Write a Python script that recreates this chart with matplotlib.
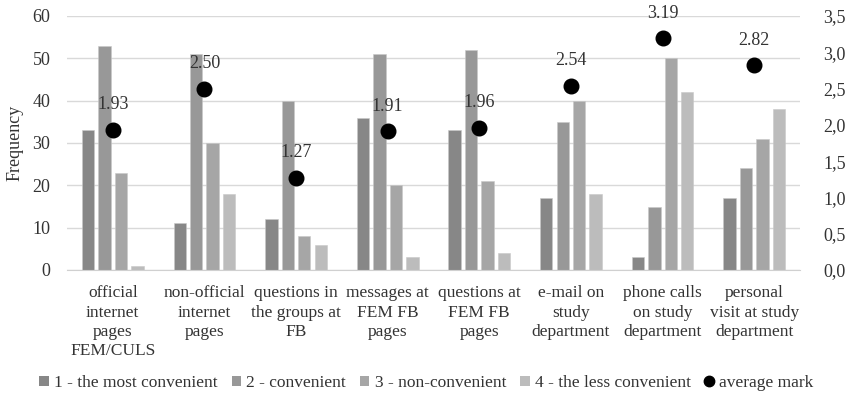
import matplotlib
matplotlib.use("Agg")
import matplotlib.pyplot as plt
from matplotlib.lines import Line2D
from matplotlib.patches import Patch
import numpy as np

plt.rcParams['font.family'] = ['Liberation Serif', 'DejaVu Serif']

categories = [
    "official\ninternet\npages\nFEM/CULS",
    "non-official\ninternet\npages",
    "questions in\nthe groups at\nFB",
    "messages at\nFEM FB\npages",
    "questions at\nFEM FB\npages",
    "e-mail on\nstudy\ndepartment",
    "phone calls\non study\ndepartment",
    "personal\nvisit at study\ndepartment",
]
series_names = ["1 - the most convenient", "2 - convenient",
                "3 - non-convenient", "4 - the less convenient"]
most_convenient = [33, 11, 12, 36, 33, 17, 3, 17]
convenient = [53, 51, 40, 51, 52, 35, 15, 24]
non_convenient = [23, 30, 8, 20, 21, 40, 50, 31]
less_convenient = [1, 18, 6, 3, 4, 18, 42, 38]
average_mark = [1.93, 2.50, 1.27, 1.91, 1.96, 2.54, 3.19, 2.82]
left_ticks = [0, 10, 20, 30, 40, 50, 60]
right_ticks = [0.0, 0.5, 1.0, 1.5, 2.0, 2.5, 3.0, 3.5]

colors = ["#878787", "#989898", "#a6a6a6", "#bcbcbc"]
series = [most_convenient, convenient, non_convenient, less_convenient]
text_color = "#333333"

fig = plt.figure(figsize=(8.53, 3.96), dpi=100)
ax = fig.add_axes([67 / 853, 1 - 270 / 396, (800 - 67) / 853, (270 - 16) / 396])

x = np.arange(len(categories))
bw = 0.135
step = 0.18
for i, (vals, c) in enumerate(zip(series, colors)):
    offs = (i - 1.5) * step
    ax.bar(x + offs, vals, width=bw, color=c, edgecolor="#c8c8c8",
           linewidth=0.4, zorder=2, label=series_names[i])

ax.set_xlim(-0.5, len(categories) - 0.5)
ax.set_ylim(0, 60)
ax.set_yticks(left_ticks)
ax.set_yticklabels([str(t) for t in left_ticks], fontsize=13, color=text_color)
ax.yaxis.grid(True, color="#d9d9d9", linewidth=1.0, zorder=0)
ax.set_axisbelow(True)
for s in ["top", "right", "left"]:
    ax.spines[s].set_visible(False)
ax.spines["bottom"].set_color("#d0d0d0")
ax.tick_params(axis="both", length=0)
ax.tick_params(axis="y", pad=12)
ax.set_xticks(x)
ax.set_xticklabels(categories, fontsize=12.5, color=text_color, linespacing=1.28)
ax.tick_params(axis="x", pad=11)
ax.set_ylabel("Frequency", fontsize=13, color=text_color, labelpad=6)

ax2 = ax.twinx()
ax2.set_ylim(0, 3.5)
ax2.set_yticks(right_ticks)
ax2.set_yticklabels([f"{t:.1f}".replace(".", ",") for t in right_ticks],
                    fontsize=13, color=text_color)
for s in ["top", "right", "left", "bottom"]:
    ax2.spines[s].set_visible(False)
ax2.tick_params(axis="y", length=0, pad=17)
ax2.plot(x, average_mark, linestyle="none", marker="o", markersize=10.5,
         color="black", zorder=5)
for xi, v in zip(x, average_mark):
    ax2.annotate(f"{v:.2f}", (xi, v), xytext=(0, 12), textcoords="offset points",
                 ha="center", va="bottom", fontsize=13, color=text_color)

handles = [Patch(facecolor=c, edgecolor="none") for c in colors]
handles.append(Line2D([], [], linestyle="none", marker="o", color="black",
                      markersize=7.5))
labels = series_names + ["average mark"]
fig.legend(handles, labels, loc="center", bbox_to_anchor=(0.5, 1 - 383 / 396),
           ncol=5, frameon=False, fontsize=12.5, handlelength=0.55,
           handleheight=0.55, handletextpad=0.3, columnspacing=0.8,
           labelcolor=text_color)

fig.savefig("out.png", dpi=100)
